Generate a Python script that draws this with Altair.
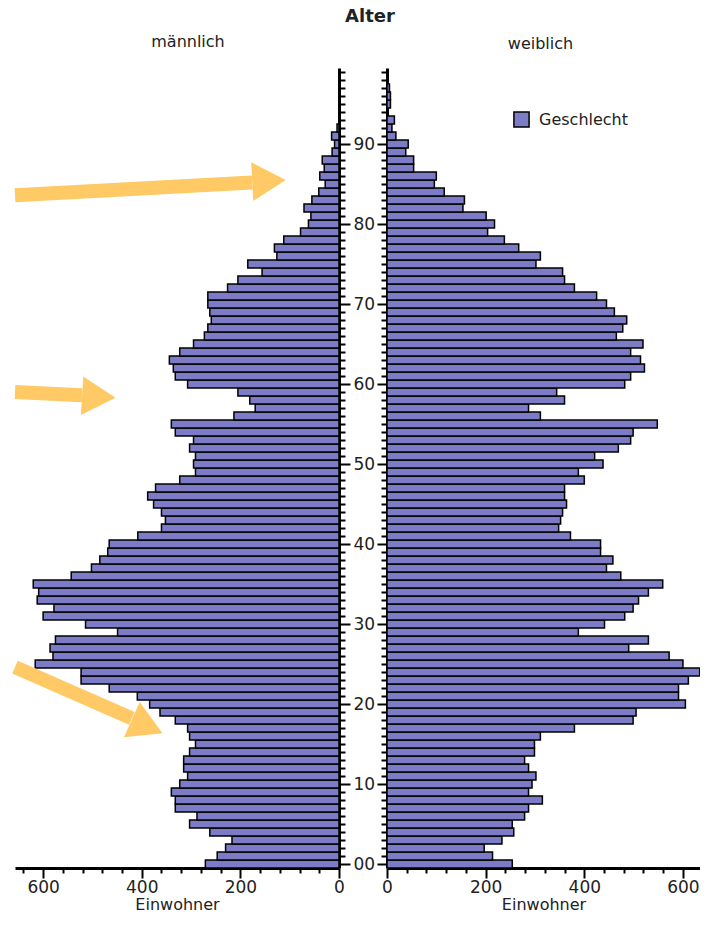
import altair as alt
import pandas as pd

FONT = "DejaVu Sans"
BAR = "#7B7BC6"
ORANGE = "#FFC965"
TXT = "#222222"

ages = list(range(0, 100))

male = [
    271, 247, 230, 217, 262, 303, 288, 332, 332, 340,
    323, 307, 315, 315, 303, 291, 303, 307, 332, 363,
    384, 409, 466, 523, 523, 616, 580, 586, 575, 449,
    514, 600, 578, 612, 609, 620, 543, 502, 485, 469,
    466, 408, 360, 352, 360, 376, 388, 372, 323, 291,
    295, 291, 303, 295, 332, 340, 213, 170, 181, 205,
    307, 332, 336, 344, 323, 295, 273, 266, 259, 262,
    266, 266, 226, 205, 156, 185, 126, 131, 112, 78,
    62, 57, 71, 55, 41, 28, 39, 30, 34, 14,
    9, 15, 4, 0, 0, 0, 0, 0, 0, 0,
]

female = [
    254, 214, 197, 233, 257, 254, 279, 287, 315, 287,
    294, 302, 287, 279, 299, 299, 311, 380, 499, 505,
    605, 591, 591, 611, 634, 600, 572, 490, 530, 388,
    441, 482, 499, 510, 530, 559, 474, 445, 458, 433,
    433, 372, 348, 352, 356, 364, 360, 360, 400, 388,
    438, 421, 469, 494, 499, 548, 311, 287, 360, 344,
    482, 494, 522, 514, 494, 519, 465, 478, 486, 461,
    445, 425, 380, 360, 356, 302, 311, 267, 238, 204,
    218, 201, 154, 157, 116, 96, 100, 54, 54, 38,
    43, 18, 10, 15, 2, 7, 7, 5, 0, 0,
]

panel_titles = ["männlich", "weiblich"]
main_title = "Alter"
x_title = "Einwohner"
legend_label = "Geschlecht"

# annotation arrows (in the left panel's data coordinates)
arrow_start_value = [657, 657, 657]
arrow_start_age = [83.6, 59.0, 24.6]
arrow_end_value = [176, 521, 420]
arrow_end_age = [85.2, 58.6, 18.2]
arrow_head_value = [142, 487, 389]
arrow_head_age = [85.4, 58.4, 17.2]
arrow_head_angle = [357, 3.5, 24]

Y_DOMAIN = [-0.5, 99.5]
LEFT_DOMAIN = [0, 657]
RIGHT_DOMAIN = [0, 634.6]


def make_df(vals):
    df = pd.DataFrame({"age": ages, "n": vals})
    df = df[df["n"] > 0].copy()
    df["lo"] = df["age"] - 0.5
    df["hi"] = df["age"] + 0.5
    df["zero"] = 0
    df["g"] = legend_label
    return df


def y_axis(orient, labels, major):
    return alt.Axis(
        orient=orient,
        values=ages,
        labels=labels,
        labelExpr="datum.value % 10 === 0 ? (datum.value < 10 ? '0' + datum.label : datum.label) : ''",
        tickSize={"condition": {"test": "datum.value % 10 === 0", "value": major}, "value": 6},
        tickWidth=2,
        tickColor="black",
        domainWidth=3,
        domainColor="black",
        labelFont=FONT,
        labelFontSize=17,
        labelColor=TXT,
        labelPadding=3,
        labelOverlap=False,
        labelFlush=False,
        labelBound=False,
        grid=False,
        title=None,
    )


def x_axis(maxv):
    return alt.Axis(
        values=list(range(0, maxv + 1, 40)),
        labelExpr="datum.value % 200 === 0 ? datum.label : ''",
        tickSize={"condition": {"test": "datum.value % 200 === 0", "value": 10}, "value": 5},
        tickWidth=2,
        tickColor="black",
        domainWidth=3,
        domainColor="black",
        labelFont=FONT,
        labelFontSize=17,
        labelColor=TXT,
        labelPadding=1,
        labelOverlap=False,
        labelFlush=False,
        grid=False,
        title=x_title,
        titleFont=FONT,
        titleFontSize=16,
        titleFontWeight="normal",
        titleColor=TXT,
        titlePadding=1,
    )


color_scale = alt.Scale(domain=[legend_label], range=[BAR])
left_x_scale = alt.Scale(domain=LEFT_DOMAIN, reverse=True, nice=False, zero=False)
left_y_scale = alt.Scale(domain=Y_DOMAIN, nice=False, zero=False)
LX_AXIS = x_axis(640)
LY_AXIS = y_axis("right", True, 11)

# ---------- left panel (male) ----------
df_m = make_df(male)
left_bars = alt.Chart(df_m).mark_bar(stroke="black", strokeWidth=1.5, clip=True).encode(
    x=alt.X("n:Q", scale=left_x_scale, axis=LX_AXIS),
    x2="zero:Q",
    y=alt.Y("lo:Q", scale=left_y_scale, axis=LY_AXIS),
    y2="hi:Q",
    color=alt.Color("g:N", scale=color_scale, legend=None),
)

arrows = pd.DataFrame({
    "v0": arrow_start_value, "a0": arrow_start_age,
    "v1": arrow_end_value, "a1": arrow_end_age,
    "hv": arrow_head_value, "ha": arrow_head_age, "ang": arrow_head_angle,
})

shafts = alt.Chart(arrows).mark_rule(color=ORANGE, strokeWidth=14, strokeCap="butt", clip=False).encode(
    x=alt.X("v0:Q", scale=left_x_scale, axis=LX_AXIS),
    x2="v1:Q",
    y=alt.Y("a0:Q", scale=left_y_scale, axis=LY_AXIS),
    y2="a1:Q",
)
heads = alt.Chart(arrows).mark_point(shape="triangle-right", filled=True, color=ORANGE,
                                     opacity=1, size=1500, clip=False).encode(
    x=alt.X("hv:Q", scale=left_x_scale, axis=LX_AXIS),
    y=alt.Y("ha:Q", scale=left_y_scale, axis=LY_AXIS),
    angle=alt.Angle("ang:Q", scale=None),
)

left = alt.layer(left_bars, shafts, heads).properties(
    width=324, height=800,
    title=alt.TitleParams(panel_titles[0], font=FONT, fontSize=16, fontWeight="normal",
                          color=TXT, dx=11, offset=13),
)

# ---------- right panel (female) ----------
df_f = make_df(female)
right = alt.Chart(df_f).mark_bar(stroke="black", strokeWidth=1.5, clip=True).encode(
    x=alt.X("n:Q", scale=alt.Scale(domain=RIGHT_DOMAIN, nice=False, zero=False),
            axis=x_axis(600)),
    x2="zero:Q",
    y=alt.Y("lo:Q", scale=alt.Scale(domain=Y_DOMAIN, nice=False, zero=False),
            axis=y_axis("left", False, 10)),
    y2="hi:Q",
    color=alt.Color("g:N", scale=color_scale, legend=alt.Legend(
        title=None, orient="none", legendX=126, legendY=43,
        symbolType="square", symbolSize=230, symbolStrokeColor="black",
        symbolStrokeWidth=1.5, symbolFillColor=BAR, symbolOpacity=1,
        labelFont=FONT, labelFontSize=16, labelColor=TXT, labelOffset=9,
    )),
).properties(
    width=313, height=800,
    title=alt.TitleParams(panel_titles[1], font=FONT, fontSize=16, fontWeight="normal",
                          color=TXT, dx=-3, offset=16),
)

chart = alt.hconcat(left, right, spacing=48, bounds="flush").resolve_scale(
    color="independent", x="independent", y="independent"
).properties(
    title=alt.TitleParams(main_title, font=FONT, fontSize=18, fontWeight="bold",
                          color=TXT, anchor="middle", dx=16, offset=8),
    padding={"left": 0, "top": 0, "right": 0, "bottom": 0},
).configure_view(stroke=None)

chart.save("out.html", embed_options={"renderer": "svg", "actions": False})
